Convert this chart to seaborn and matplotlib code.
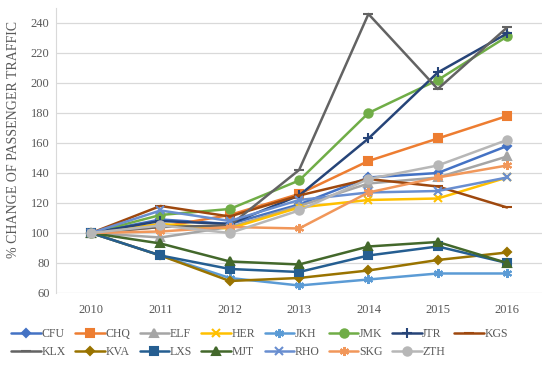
import matplotlib
matplotlib.use("Agg")
import matplotlib.pyplot as plt
import seaborn as sns

sns.set_style("white")
plt.rcParams['font.family'] = ['Liberation Serif', 'DejaVu Serif']

# data
years = [2010, 2011, 2012, 2013, 2014, 2015, 2016]
airports = ['CFU', 'CHQ', 'ELF', 'HER', 'JKH', 'JMK', 'JTR', 'KGS',
            'KLX', 'KVA', 'LXS', 'MJT', 'RHO', 'SKG', 'ZTH']
cfu = [100, 109, 106, 119, 137, 140, 158]
chq = [100, 104, 112, 126, 148, 163, 178]
elf = [100, 97, 104, 118, 133, 137, 151]
her = [100, 106, 103, 117, 122, 123, 137]
jkh = [100, 85, 70, 65, 69, 73, 73]
jmk = [100, 112, 116, 135, 180, 202, 231]
jtr = [100, 108, 106, 125, 163, 207, 233]
kgs = [100, 118, 111, 125, 136, 131, 117]
klx = [100, 104, 105, 142, 246, 196, 237]
kva = [100, 85, 68, 70, 75, 82, 87]
lxs = [100, 85, 76, 74, 85, 91, 80]
mjt = [100, 93, 81, 79, 91, 94, 80]
rho = [100, 115, 108, 122, 127, 128, 137]
skg = [100, 101, 104, 103, 127, 137, 145]
zth = [100, 105, 100, 115, 136, 145, 162]
series = [cfu, chq, elf, her, jkh, jmk, jtr, kgs, klx, kva, lxs, mjt, rho, skg, zth]

colors = ['#4472C4', '#ED7D31', '#A5A5A5', '#FFC000', '#5B9BD5', '#70AD47',
          '#264478', '#9E480E', '#636363', '#997300', '#255E91', '#43682B',
          '#698ED0', '#F1975A', '#B7B7B7']
markers = ['D', 's', '^', 'x', (6, 2, 0), 'o', '+', '_',
           '_', 'D', 's', '^', 'x', (6, 2, 0), 'o']
msizes = [4.5, 5.5, 5.5, 5.5, 6.5, 6, 6.5, 6.5, 6.5, 4.5, 5.5, 5.5, 5.5, 6.5, 6]

fig = plt.figure(figsize=(5.5, 3.65), dpi=100)
ax = fig.add_axes([0.1027, 0.1973, 0.8823, 0.7808])

for name, vals, c, m, ms in zip(airports, series, colors, markers, msizes):
    sns.lineplot(x=years, y=vals, ax=ax, color=c, marker=m, markersize=ms,
                 markeredgecolor=c, markeredgewidth=1.5, linewidth=1.8,
                 label=name, legend=False)

ax.set_xlim(2009.5, 2016.5)
ax.set_ylim(60, 250)
ax.set_xticks(years)
ax.set_xticklabels([str(y) for y in years])
ax.set_yticks(range(60, 241, 20))
ax.grid(axis='y', color='#D9D9D9', linewidth=0.9)
ax.set_axisbelow(True)
for s in ['top', 'right', 'bottom']:
    ax.spines[s].set_visible(False)
ax.spines['left'].set_color('#D9D9D9')
ax.tick_params(axis='both', length=0, labelsize=9, labelcolor='#595959')
ax.tick_params(axis='x', pad=8)
ax.tick_params(axis='y', pad=5)
ax.set_ylabel('% CHANGE OF PASSENGER TRAFFIC', fontsize=10, color='#595959')
ax.yaxis.set_label_coords(-0.075, 0.54)
ax.set_xlabel('')

# legend fills column by column, so reorder to read row by row like the original
handles, labels = ax.get_legend_handles_labels()
order = []
for j in range(8):
    order.append(j)
    if j + 8 < len(handles):
        order.append(j + 8)
fig.legend([handles[i] for i in order], [labels[i] for i in order], ncol=8,
           loc='upper left', bbox_to_anchor=(0.012, 0.113),
           frameon=False, fontsize=8.5, labelcolor='#595959', handlelength=2.5,
           handletextpad=0.05, columnspacing=0.8, borderaxespad=0, labelspacing=0.5)

fig.savefig('out.png', dpi=100)
